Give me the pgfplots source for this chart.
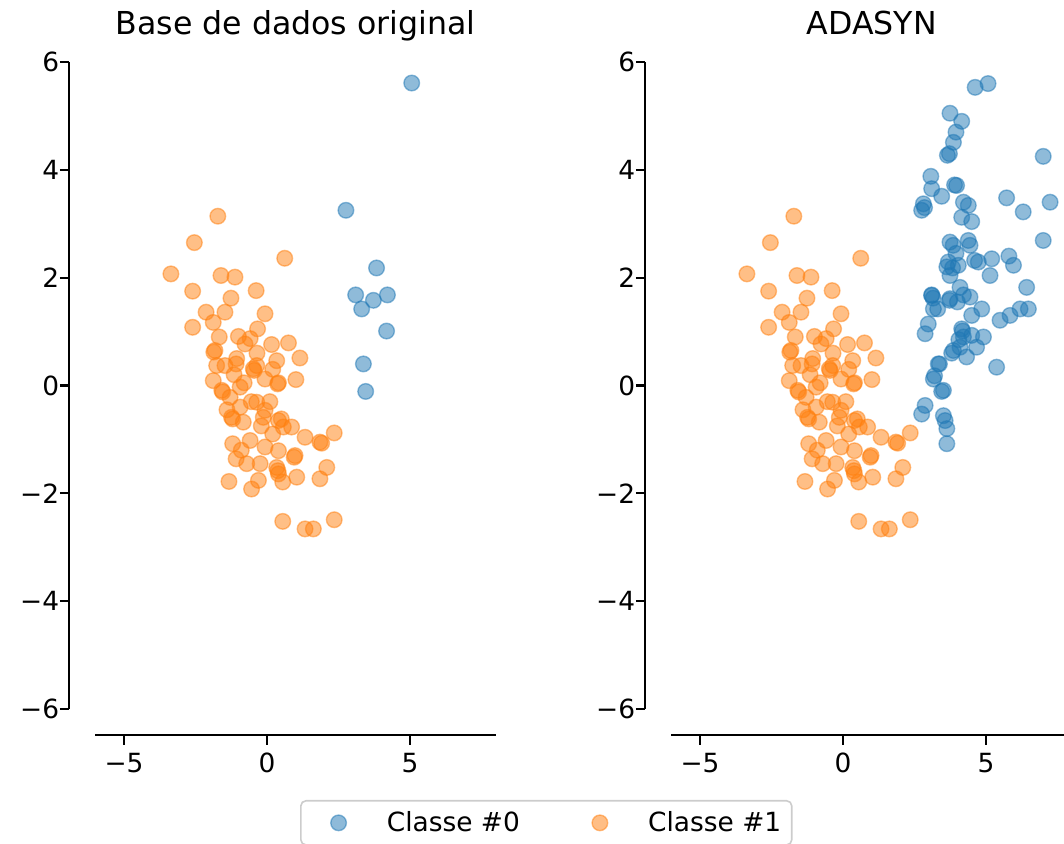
\documentclass[border=0pt]{standalone}
\usepackage{fontspec}
\setmainfont{DejaVu Sans}
\usepackage{pgfplots}
\usepackage{pgfplotstable}
\pgfplotsset{compat=1.18}
\definecolor{tabblue}{RGB}{31,119,180}
\definecolor{taborange}{RGB}{255,127,14}

\pgfplotstableread{
x y
-1.72 3.14
-2.54 2.65
0.62 2.36
-3.36 2.07
-1.61 2.04
-1.12 2.01
-2.60 1.75
-0.38 1.76
-1.26 1.62
-2.13 1.36
-1.47 1.36
-0.07 1.33
-1.88 1.17
-2.60 1.08
-0.33 1.05
-1.67 0.90
-1.00 0.91
-0.59 0.87
-0.77 0.77
0.16 0.76
0.75 0.79
-1.82 0.65
-1.86 0.62
-1.06 0.50
0.34 0.46
1.15 0.51
-1.76 0.37
-1.47 0.37
-1.08 0.40
-0.48 0.31
-0.45 0.28
-0.36 0.37
-1.88 0.09
-0.07 0.12
0.37 0.03
0.40 0.05
1.01 0.11
-1.58 -0.09
-1.55 -0.12
-1.29 -0.22
-0.94 -0.03
-0.80 0.05
-0.36 -0.31
-0.07 -0.46
-0.94 -0.40
-1.24 -0.59
-1.20 -0.62
-0.83 -0.68
-0.13 -0.59
0.40 -0.65
0.50 -0.62
0.57 -0.77
0.86 -0.77
1.33 -0.96
1.91 -1.07
1.85 -1.05
2.35 -0.88
-1.20 -1.08
-0.59 -1.02
-0.07 -1.14
0.40 -1.21
-1.08 -1.36
-0.71 -1.45
-0.24 -1.45
0.34 -1.52
0.38 -1.58
0.40 -1.64
0.98 -1.30
0.95 -1.33
2.09 -1.52
1.85 -1.73
1.04 -1.70
0.55 -1.79
-1.33 -1.78
-0.30 -1.76
-0.54 -1.92
0.55 -2.52
1.33 -2.66
1.62 -2.66
2.35 -2.49
-0.20 -0.75
0.20 -0.90
-0.55 -0.30
-1.40 -0.45
0.10 -0.30
-0.90 -1.20
-0.35 0.60
0.20 0.30
-1.15 0.20
}\orange

\pgfplotstableread{
x y
5.06 5.61
2.76 3.25
3.83 2.18
3.10 1.68
4.21 1.68
3.72 1.58
3.31 1.42
4.18 1.01
3.37 0.40
3.45 -0.11
}\blueorig

\pgfplotstableread{
x y
4.62 5.53
5.07 5.60
3.74 5.05
4.15 4.90
3.95 4.70
3.86 4.51
3.65 4.27
3.72 4.30
3.07 3.88
3.10 3.65
3.97 3.71
3.90 3.72
3.45 3.51
2.81 3.37
2.75 3.25
2.85 3.30
4.21 3.40
4.38 3.34
4.15 3.12
4.50 3.04
5.72 3.48
7.00 4.25
7.24 3.40
6.30 3.22
7.00 2.69
3.74 2.66
3.85 2.60
4.38 2.69
4.44 2.60
3.68 2.29
3.63 2.20
4.03 2.23
4.73 2.29
5.20 2.35
5.14 2.04
5.80 2.40
5.96 2.23
3.74 2.04
6.42 1.82
3.10 1.67
3.15 1.62
3.74 1.61
3.83 2.18
4.09 1.82
4.44 1.64
3.72 1.58
4.21 1.68
4.85 1.42
3.16 1.42
3.31 1.42
4.50 1.30
5.49 1.21
5.84 1.30
6.19 1.42
6.48 1.42
2.98 1.14
2.87 0.96
4.15 1.05
4.18 1.01
4.50 0.93
4.91 0.90
4.21 0.90
3.86 0.65
3.80 0.60
4.09 0.71
4.32 0.53
4.67 0.71
5.37 0.34
3.33 0.40
3.37 0.40
3.16 0.12
3.20 0.18
3.45 -0.11
3.51 -0.09
2.87 -0.37
2.75 -0.53
3.51 -0.56
3.57 -0.65
3.63 -0.80
3.63 -1.08
4.00 1.55
3.95 2.45
4.05 0.85
3.10 1.68
4.60 2.32
}\blueada

\pgfplotsset{
  myax/.style={
    scale only axis,
    width=200.2pt, height=323.5pt,
    anchor=south west,
    xmin=-6, xmax=8, ymin=-6, ymax=6,
    axis x line=bottom, axis y line=left,
    axis line style={-, black, line width=1.06pt},
    axis x line shift=13.2pt, axis y line shift=13.2pt,
    xtick={-5,0,5}, xticklabels={−5,0,5},
    ytick={-6,-4,-2,0,2,4,6}, yticklabels={−6,−4,−2,0,2,4,6},
    tick align=outside, major tick length=4.6pt,
    tick style={black, line width=1.06pt},
    tick label style={font=\fontsize{13.2}{15}\selectfont, black},
    yticklabel style={xshift=3.2pt},
    xticklabel style={yshift=-0.8pt},
    title style={font=\fontsize{15.8}{19}\selectfont, at={(0.5,1)}, anchor=base, yshift=7.9pt},
    clip=false,
  },
  dots/.style={only marks, mark=*, mark size=3.9pt, color=#1,
    mark options={fill=#1, draw=#1, fill opacity=0.5, draw opacity=0.5, line width=0.7pt}},
}

\begin{document}
\begin{tikzpicture}
\begin{axis}[myax, at={(47.7pt,67.5pt)},
  title={Base de dados original},
  legend columns=2,
  legend style={at={(0.511,-0.1406)}, anchor=north west,
    draw=black!20, line width=0.8pt, rounded corners=2.6pt, fill=white, fill opacity=0.8, text opacity=1,
    inner sep=5.28pt, font=\fontsize{13.2}{15}\selectfont,
    nodes={inner sep=0pt},
    /tikz/column sep=10.56pt,
    /tikz/every even column/.append style={column sep=26.4pt}},
  legend image code/.code={\path (-13.2pt,0pt) (13.2pt,0pt); \draw[#1] plot coordinates {(0pt,0pt)};},
]
\addplot[dots=tabblue] table {\blueorig};
\addlegendentry{Classe \#0}
\addplot[dots=taborange] table {\orange};
\addlegendentry{Classe \#1}
\end{axis}
\begin{axis}[myax, at={(335.7pt,67.5pt)}, title={ADASYN}]
\addplot[dots=tabblue] table {\blueada};
\addplot[dots=taborange] table {\orange};
\end{axis}
\pgfresetboundingbox
\path[use as bounding box] (0,0) rectangle (532pt,422pt);
\end{tikzpicture}
\end{document}
